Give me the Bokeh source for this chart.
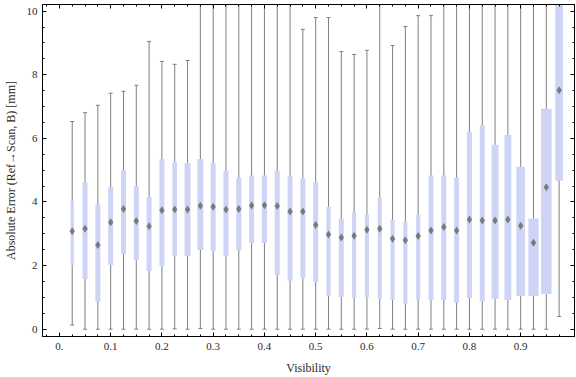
from bokeh.plotting import figure
from bokeh.models import (Range1d, FixedTicker, SingleIntervalTicker, LinearAxis,
                          ColumnDataSource, CustomJSTickFormatter)
from bokeh.embed import file_html
from bokeh.resources import INLINE

# ---- data ----
visibility = [0.025, 0.05, 0.075, 0.1, 0.125, 0.15, 0.175, 0.2, 0.225, 0.25,
              0.275, 0.3, 0.325, 0.35, 0.375, 0.4, 0.425, 0.45, 0.475, 0.5,
              0.525, 0.55, 0.575, 0.6, 0.625, 0.65, 0.675, 0.7, 0.725, 0.75,
              0.775, 0.8, 0.825, 0.85, 0.875, 0.9, 0.925, 0.95, 0.975]
whisker_low = [0.13, 0.0, 0.0, 0.0, 0.0, 0.0, 0.0, 0.0, 0.01, 0.0,
               0.02, 0.0, 0.0, 0.0, 0.0, 0.0, 0.0, 0.0, 0.0, 0.0,
               0.0, 0.0, 0.0, 0.0, 0.02, 0.0, 0.0, 0.0, 0.0, 0.0,
               0.0, 0.0, 0.0, 0.0, 0.0, 0.0, 0.0, 0.0, 0.40]
q1 = [2.02, 1.58, 0.86, 2.02, 2.36, 2.17, 1.83, 1.99, 2.30, 2.30,
      2.49, 2.45, 2.30, 2.49, 2.71, 2.71, 1.70, 1.52, 1.61, 1.48,
      1.04, 1.01, 0.98, 1.01, 0.95, 0.92, 0.79, 0.92, 0.92, 0.92,
      0.83, 0.98, 0.89, 0.95, 0.92, 1.04, 1.04, 1.11, 4.67]
median = [3.08, 3.16, 2.65, 3.36, 3.78, 3.40, 3.24, 3.74, 3.76, 3.76,
          3.88, 3.85, 3.76, 3.78, 3.89, 3.90, 3.87, 3.70, 3.70, 3.28,
          2.98, 2.88, 2.94, 3.13, 3.16, 2.84, 2.80, 2.93, 3.10, 3.21,
          3.10, 3.45, 3.42, 3.42, 3.45, 3.25, 2.72, 4.46, 7.51]
q3 = [4.04, 4.61, 3.92, 4.47, 5.00, 4.50, 4.16, 5.35, 5.26, 5.22,
      5.35, 5.22, 4.98, 4.76, 4.83, 4.83, 4.98, 4.80, 4.75, 4.61,
      3.85, 3.47, 3.66, 3.60, 4.13, 3.45, 3.39, 3.60, 4.83, 4.83,
      4.76, 6.21, 6.42, 5.80, 6.11, 5.11, 3.48, 6.93, 11.0]
whisker_high = [6.53, 6.81, 7.04, 7.42, 7.48, 7.67, 9.05, 8.42, 8.33, 8.45,
                11.5, 11.5, 10.26, 11.5, 11.5, 11.5, 11.5, 11.5, 9.43, 9.80,
                9.80, 8.73, 8.64, 8.77, 11.5, 8.92, 9.52, 9.86, 9.86, 11.5,
                11.5, 11.5, 11.5, 11.5, 11.5, 11.5, 11.5, 11.5, 12.0]
box_width = [0.0064, 0.0097, 0.0097, 0.0097, 0.0097, 0.0097, 0.0097, 0.0097, 0.0090, 0.0116,
             0.0116, 0.0097, 0.0100, 0.0100, 0.0097, 0.0100, 0.0097, 0.0097, 0.0097, 0.0097,
             0.0080, 0.0097, 0.0080, 0.0080, 0.0080, 0.0080, 0.0080, 0.0080, 0.0097, 0.0097,
             0.0097, 0.0097, 0.0097, 0.0135, 0.0135, 0.0168, 0.0199, 0.0207, 0.0149]

x_tick_vals = [0.0, 0.1, 0.2, 0.3, 0.4, 0.5, 0.6, 0.7, 0.8, 0.9]
x_tick_labels = ["0.", "0.1", "0.2", "0.3", "0.4", "0.5", "0.6", "0.7", "0.8", "0.9"]
x_minor_ticks = [-0.025, 0.0] + visibility

FONT = "Liberation Serif"
TXT = "#2a2a2a"
GRAY = "#7f7f7f"
BOX = "#cdd4f5"

src = ColumnDataSource(dict(x=visibility, lo=whisker_low, q1=q1, med=median,
                            q3=q3, hi=whisker_high, w=box_width))

p = figure(width=576, height=377, output_backend="svg", toolbar_location=None,
           x_range=Range1d(-0.033, 1.005), y_range=Range1d(-0.23, 10.21),
           min_border_left=36, min_border_right=2, min_border_top=4, min_border_bottom=0)
p.grid.visible = False
p.outline_line_color = "black"
p.outline_line_width = 1
p.background_fill_color = "white"
p.border_fill_color = "white"

# whiskers
p.segment(x0="x", y0="lo", x1="x", y1="hi", source=src, line_color=GRAY, line_width=1)
p.scatter(x="x", y="lo", source=src, marker="dash", size=4, line_color=GRAY, line_width=1)
p.scatter(x="x", y="hi", source=src, marker="dash", size=4, line_color=GRAY, line_width=1)
# boxes
p.vbar(x="x", width="w", bottom="q1", top="q3", source=src,
       fill_color=BOX, line_color=None)
# medians
p.scatter(x="x", y="med", source=src, marker="diamond", size=8,
          fill_color="#7a7a7a", line_color=None)

def style(ax):
    ax.major_tick_in = 4
    ax.major_tick_out = 0
    ax.minor_tick_in = 2
    ax.minor_tick_out = 0
    ax.axis_line_color = "black"
    ax.major_tick_line_color = "black"
    ax.minor_tick_line_color = "black"
    ax.major_label_text_font = FONT
    ax.major_label_text_font_size = "11px"
    ax.major_label_text_color = TXT
    ax.axis_label_text_font = FONT
    ax.axis_label_text_font_size = "12px"
    ax.axis_label_text_font_style = "normal"
    ax.axis_label_text_color = TXT

xt = FixedTicker(ticks=x_tick_vals, minor_ticks=x_minor_ticks)
yt = SingleIntervalTicker(interval=2, num_minor_ticks=4)

xa = p.xaxis[0]
xa.ticker = xt
xa.major_label_overrides = {v: s for v, s in zip(x_tick_vals, x_tick_labels)}
xa.axis_label = "Visibility"
xa.major_label_standoff = 6
xa.axis_label_standoff = 8
style(xa)

ya = p.yaxis[0]
ya.ticker = yt
ya.axis_label = "Absolute Error (Ref\u2192Scan, B) [mm]"
ya.major_label_standoff = 5
ya.axis_label_standoff = 6
style(ya)

blank = CustomJSTickFormatter(code="return ''")
top = LinearAxis(ticker=FixedTicker(ticks=x_tick_vals, minor_ticks=x_minor_ticks),
                 formatter=blank, major_label_standoff=0)
style(top)
top.major_label_text_font_size = "0px"
p.add_layout(top, "above")
right = LinearAxis(ticker=SingleIntervalTicker(interval=2, num_minor_ticks=4),
                   formatter=blank, major_label_standoff=0)
style(right)
right.major_label_text_font_size = "0px"
p.add_layout(right, "right")

open("out.html", "w").write(file_html(p, INLINE))
